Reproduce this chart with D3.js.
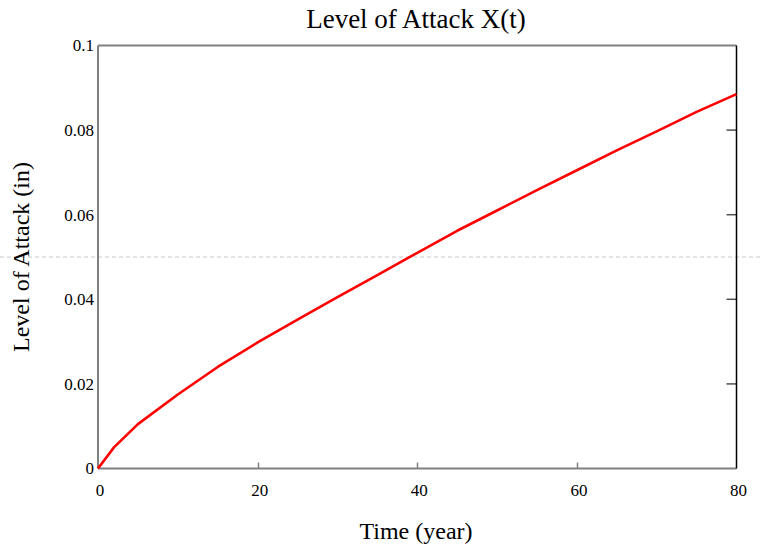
<!DOCTYPE html>
<html>
<head>
<meta charset="utf-8">
<script src="https://cdn.jsdelivr.net/npm/d3@7"></script>
<style>
  html, body { margin: 0; padding: 0; background: #fff; }
  svg { display: block; }
  text { font-family: "Liberation Serif", "Times New Roman", serif; fill: #000; }
</style>
</head>
<body>
<script>
const timeYears = [0, 2, 5, 10, 15, 20, 25, 30, 35, 40, 45, 50, 55, 60, 65, 70, 75, 80];
const attackLevel = [0, 0.005, 0.0105, 0.0175, 0.024, 0.0298, 0.0352, 0.0405, 0.0457, 0.0510, 0.0562, 0.061, 0.0658, 0.0705, 0.0752, 0.0797, 0.0843, 0.0885];
const xTicks = [0, 20, 40, 60, 80];
const yTicks = [0, 0.02, 0.04, 0.06, 0.08, 0.1];
const refLevel = 0.05;

const W = 761, H = 548;
const m = { left: 98, right: 736.5, top: 45.5, bottom: 468.5 };

const svg = d3.select("body").append("svg").attr("width", W).attr("height", H);

const x = d3.scaleLinear().domain([0, 80]).range([m.left, m.right]);
const y = d3.scaleLinear().domain([0, 0.1]).range([m.bottom, m.top]);

svg.append("line")
  .attr("x1", 0).attr("x2", W)
  .attr("y1", y(refLevel)).attr("y2", y(refLevel))
  .attr("stroke", "#c8c8c8").attr("stroke-width", 1)
  .attr("stroke-dasharray", "4,3");

svg.append("g").selectAll("line").data(xTicks.slice(1, -1)).join("line")
  .attr("x1", d => Math.round(x(d)) + 0.5).attr("x2", d => Math.round(x(d)) + 0.5)
  .attr("y1", m.bottom).attr("y2", m.bottom - 6)
  .attr("stroke", "#808080").attr("stroke-width", 1.5);

svg.append("g").selectAll("line").data(yTicks.slice(1, -1)).join("line")
  .attr("x1", m.right).attr("x2", m.right - 10)
  .attr("y1", d => y(d)).attr("y2", d => y(d))
  .attr("stroke", "#505050").attr("stroke-width", 1.5);

svg.append("line").attr("x1", m.left).attr("x2", m.right).attr("y1", m.top).attr("y2", m.top)
  .attr("stroke", "#808080").attr("stroke-width", 2);
svg.append("line").attr("x1", m.left).attr("x2", m.right).attr("y1", m.bottom).attr("y2", m.bottom)
  .attr("stroke", "#808080").attr("stroke-width", 2);
svg.append("line").attr("x1", m.left).attr("x2", m.left).attr("y1", m.top).attr("y2", m.bottom)
  .attr("stroke", "#808080").attr("stroke-width", 2);
svg.append("line").attr("x1", m.right).attr("x2", m.right).attr("y1", m.top).attr("y2", m.bottom)
  .attr("stroke", "#000").attr("stroke-width", 1.5);

const line = d3.line().x((d, i) => x(timeYears[i])).y(d => y(d));
svg.append("path").datum(attackLevel)
  .attr("d", line)
  .attr("fill", "none").attr("stroke", "#ff0000").attr("stroke-width", 2.6)
  .attr("stroke-linejoin", "round");

svg.append("g").selectAll("text").data(yTicks).join("text")
  .attr("x", 94).attr("y", d => y(d))
  .attr("dy", "0.35em")
  .attr("text-anchor", "end")
  .attr("font-size", 17)
  .text(d => d === 0 ? "0" : d3.format("~g")(d));

svg.append("g").selectAll("text").data(xTicks).join("text")
  .attr("x", d => x(d) + 2).attr("y", 496)
  .attr("text-anchor", "middle")
  .attr("font-size", 17)
  .text(d => d);

svg.append("text").attr("x", 416).attr("y", 28).attr("text-anchor", "middle")
  .attr("font-size", 27).text("Level of Attack X(t)");

svg.append("text").attr("x", 416).attr("y", 539).attr("text-anchor", "middle")
  .attr("font-size", 24).text("Time (year)");

svg.append("text")
  .attr("transform", `translate(29, ${(m.top + m.bottom) / 2}) rotate(-90)`)
  .attr("text-anchor", "middle")
  .attr("font-size", 24).text("Level of Attack (in)");
</script>
</body>
</html>
